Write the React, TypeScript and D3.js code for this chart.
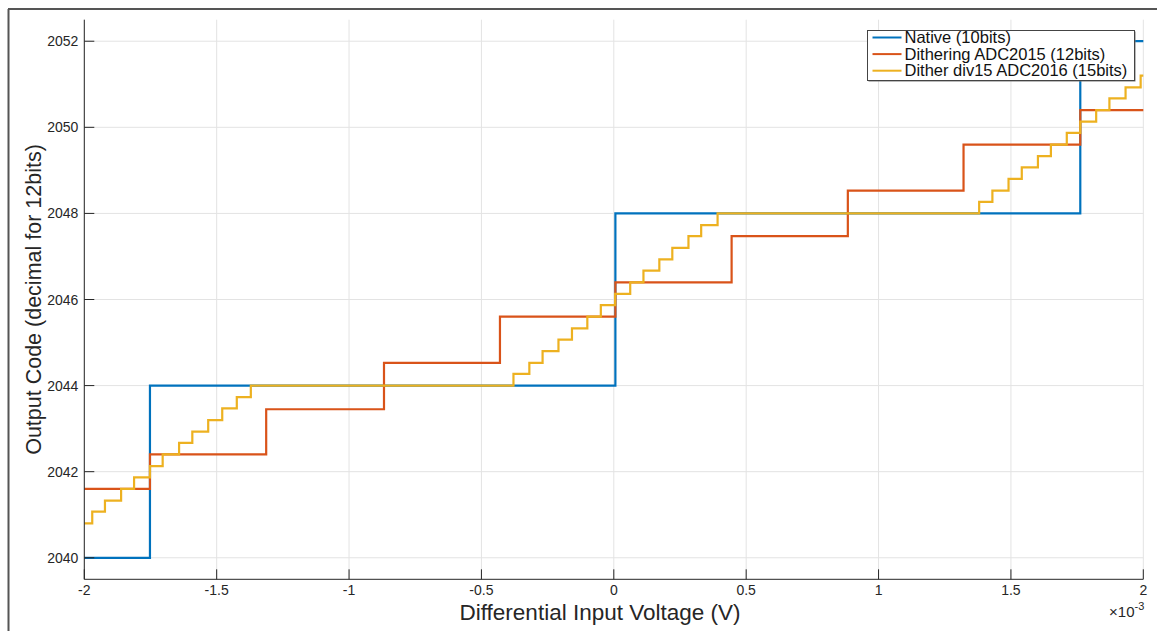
import React, { useRef, useEffect } from "react";
import * as d3 from "d3";

// x values in mV (axis shows x10^-3 V), y values are 12-bit output codes
const xTicks = [-2, -1.5, -1, -0.5, 0, 0.5, 1, 1.5, 2];
const yTicks = [2040, 2042, 2044, 2046, 2048, 2050, 2052];

const nativeEdges = [-2, -1.752, 0.006, 1.762, 2];
const nativeCodes = [2040, 2044, 2048, 2052, 2052];

const ditherEdges = [-2, -1.752, -1.313, -0.868, -0.43, 0.006, 0.445, 0.884, 1.321, 1.762, 2];
const ditherCodes = [2041.6, 2042.4, 2043.45, 2044.53, 2045.6, 2046.4, 2047.47, 2048.53, 2049.6, 2050.4, 2050.4];

const div15Edges = [
  -2, -1.97, -1.922, -1.861, -1.812, -1.752, -1.704, -1.642, -1.592, -1.532, -1.479, -1.424, -1.371,
  -0.379, -0.319, -0.269, -0.209, -0.158, -0.1, -0.049, 0.005, 0.062, 0.112, 0.172, 0.221, 0.282, 0.33, 0.392,
  1.38, 1.43, 1.491, 1.541, 1.602, 1.651, 1.711, 1.762, 1.822, 1.872, 1.933, 1.99, 2,
];
const div15Codes = [
  2040.8, 2041.07, 2041.33, 2041.6, 2041.87, 2042.13, 2042.4, 2042.67, 2042.93, 2043.2, 2043.47, 2043.73, 2044,
  2044.27, 2044.53, 2044.8, 2045.07, 2045.33, 2045.6, 2045.87, 2046.13, 2046.4, 2046.67, 2046.93, 2047.2, 2047.47, 2047.73, 2048,
  2048.27, 2048.53, 2048.8, 2049.07, 2049.33, 2049.6, 2049.87, 2050.13, 2050.4, 2050.67, 2050.93, 2051.2, 2051.2,
];

const seriesNames = ["Native (10bits)", "Dithering ADC2015 (12bits)", "Dither div15 ADC2016 (15bits)"];
const seriesColors = ["#0072BD", "#D95319", "#EDB120"];

const App = () => {
  const svgRef = useRef<SVGSVGElement>(null);

  useEffect(() => {
    const width = 1157;
    const height = 631;
    const left = 84.3, right = 1143.3, top = 19.7, bottom = 579.3;
    const font = "'Liberation Sans', Arial, Helvetica, sans-serif";

    const svg = d3.select(svgRef.current).attr("width", width).attr("height", height);
    svg.selectAll("*").remove();

    svg.append("rect").attr("width", width).attr("height", height).attr("fill", "white");

    // outer frame (left and top edges only visible)
    svg.append("line").attr("x1", 8.5).attr("x2", 8.5).attr("y1", 9).attr("y2", height)
      .attr("stroke", "#555").attr("stroke-width", 2);
    svg.append("line").attr("x1", 8).attr("x2", width).attr("y1", 9).attr("y2", 9)
      .attr("stroke", "#555").attr("stroke-width", 2);

    const x = d3.scaleLinear().domain([-2, 2]).range([left, right]);
    const y = d3.scaleLinear().domain([2039.5, 2052.5]).range([bottom, top]);

    // grid
    const grid = svg.append("g").attr("stroke", "#e3e3e3").attr("stroke-width", 1);
    grid.selectAll("line.gx").data(xTicks).enter().append("line")
      .attr("x1", d => x(d)).attr("x2", d => x(d)).attr("y1", top).attr("y2", bottom);
    grid.selectAll("line.gy").data(yTicks).enter().append("line")
      .attr("x1", left).attr("x2", right).attr("y1", d => y(d)).attr("y2", d => y(d));

    // step lines
    const line = d3.line<[number, number]>()
      .x(d => x(d[0]))
      .y(d => y(d[1]))
      .curve(d3.curveStepAfter);

    const series: [number, number][][] = [
      nativeEdges.map((e, i) => [e, nativeCodes[i]]),
      ditherEdges.map((e, i) => [e, ditherCodes[i]]),
      div15Edges.map((e, i) => [e, div15Codes[i]]),
    ];

    svg.selectAll("path.series").data(series).enter().append("path")
      .attr("class", "series")
      .attr("d", d => line(d))
      .attr("fill", "none")
      .attr("stroke", (_, i) => seriesColors[i])
      .attr("stroke-width", 2.2);

    // axes
    const axisColor = "#262626";
    svg.append("line").attr("x1", left).attr("x2", left).attr("y1", top).attr("y2", bottom)
      .attr("stroke", axisColor).attr("stroke-width", 1);
    svg.append("line").attr("x1", left).attr("x2", right).attr("y1", bottom).attr("y2", bottom)
      .attr("stroke", axisColor).attr("stroke-width", 1);

    svg.selectAll("line.xt").data(xTicks).enter().append("line")
      .attr("x1", d => x(d)).attr("x2", d => x(d)).attr("y1", bottom).attr("y2", bottom - 10)
      .attr("stroke", axisColor);
    svg.selectAll("line.yt").data(yTicks).enter().append("line")
      .attr("x1", left).attr("x2", left + 10).attr("y1", d => y(d)).attr("y2", d => y(d))
      .attr("stroke", axisColor);

    svg.selectAll("text.xl").data(xTicks).enter().append("text")
      .attr("x", d => x(d)).attr("y", bottom + 16)
      .attr("text-anchor", "middle")
      .style("font-family", font).style("font-size", "14px").attr("fill", axisColor)
      .text(d => String(d));
    svg.selectAll("text.yl").data(yTicks).enter().append("text")
      .attr("x", left - 6).attr("y", d => y(d) + 5)
      .attr("text-anchor", "end")
      .style("font-family", font).style("font-size", "14px").attr("fill", axisColor)
      .text(d => String(d));

    // exponent label
    const ex = svg.append("text").attr("x", right + 1).attr("y", 617).attr("text-anchor", "end")
      .style("font-family", font).style("font-size", "15px").attr("fill", axisColor);
    ex.append("tspan").text("\u00d710");
    ex.append("tspan").attr("dy", -7).style("font-size", "11px").text("-3");

    // axis titles
    svg.append("text")
      .attr("x", 600).attr("y", 620)
      .attr("text-anchor", "middle")
      .style("font-family", font).style("font-size", "22.5px").attr("fill", axisColor)
      .text("Differential Input Voltage (V)");
    svg.append("text")
      .attr("transform", `translate(41, ${(top + bottom) / 2}) rotate(-90)`)
      .attr("text-anchor", "middle")
      .style("font-family", font).style("font-size", "21.5px").attr("fill", axisColor)
      .text("Output Code (decimal for 12bits)");

    // legend
    const lg = svg.append("g").attr("transform", "translate(867.5, 30.5)");
    lg.append("rect").attr("x", 1).attr("y", 1).attr("width", 267).attr("height", 50).attr("fill", "#777");
    lg.append("rect").attr("width", 267).attr("height", 50).attr("fill", "white")
      .attr("stroke", "#444").attr("stroke-width", 1);
    seriesNames.forEach((name, i) => {
      const cy = 7 + i * 16.6;
      lg.append("line").attr("x1", 5).attr("x2", 34).attr("y1", cy).attr("y2", cy)
        .attr("stroke", seriesColors[i]).attr("stroke-width", 2);
      lg.append("text").attr("x", 37).attr("y", cy + 5.5)
        .style("font-family", font).style("font-size", "16.5px").attr("fill", "#111")
        .text(name);
    });
  }, []);

  return (
    <svg
      ref={svgRef}
      style={{ position: "absolute", left: 0, top: 0, display: "block" }}
    ></svg>
  );
};

export default App;
